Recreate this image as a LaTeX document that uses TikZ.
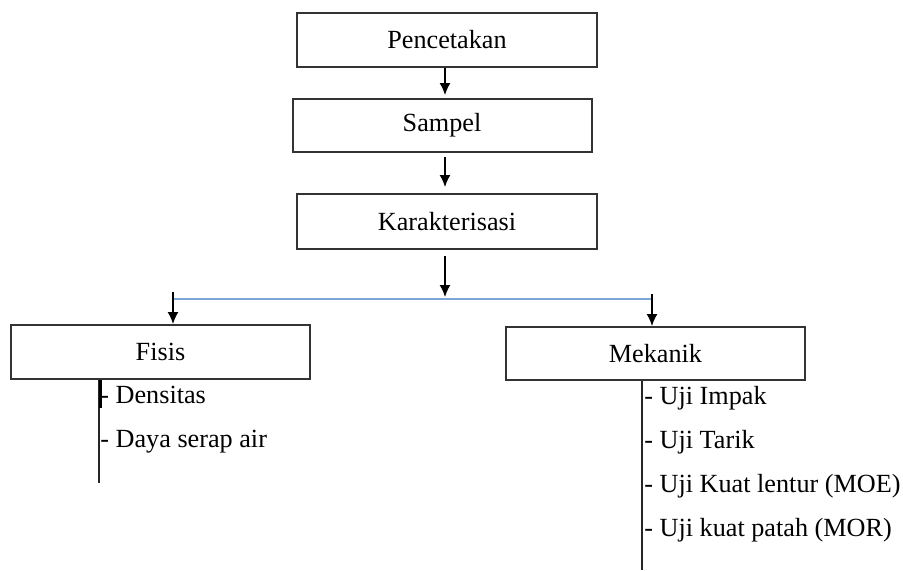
\documentclass[tikz,border=0pt]{standalone}
\usepackage{fontspec}
\setmainfont{Liberation Serif}
\usetikzlibrary{arrows.meta}
\definecolor{boxline}{HTML}{333333}
\definecolor{splitblue}{HTML}{7CA6DA}
\begin{document}
\begin{tikzpicture}[x=0.5pt,y=-0.5pt,
  box/.style={draw=boxline,line width=1pt,inner sep=0pt,minimum width=150pt,font=\fontsize{13.1}{15}\selectfont},
  arr/.style={line width=0.75pt,-{Latex[length=6pt,width=5.5pt]}},
  item/.style={anchor=base west,inner sep=0pt,font=\fontsize{13.1}{15}\selectfont},
  stem/.style={line width=0.75pt,draw=black!85},
  split/.style={line width=1pt,draw=splitblue}]
\useasboundingbox (0,0) rectangle (903,570);
% boxes
\node[box,minimum height=27pt] (pen) at (447,40) {Pencetakan};
\node[box,minimum height=26.5pt,minimum width=149.5pt] (sam) at (442,125.5) {Sampel};
\node[box,minimum height=27.5pt] (kar) at (447,221.5) {Karakterisasi};
\node[box,minimum height=27pt,minimum width=149.5pt] (fis) at (160.5,352) {Fisis};
\node[box,minimum height=26.5pt,minimum width=149.5pt] (mek) at (655.5,353.5) {Mekanik};
% helper coordinates
\coordinate (a1s) at (445,67);
\coordinate (a1e) at (445,95);
\coordinate (a2s) at (445,157);
\coordinate (a2e) at (445,187);
\coordinate (a3s) at (445,256);
\coordinate (a3e) at (445,297);
\coordinate (bl) at (173,299);
\coordinate (br) at (652,299);
\coordinate (flt) at (173,292);
\coordinate (frt) at (652,294);
\coordinate (fend) at (99,483);
\coordinate (fthick) at (100.5,408);
\coordinate (mend) at (642,570);
% vertical arrows
\draw[arr] (pen.south -| a1s) -- (a1e);
\draw[arr] (a2s) -- (a2e);
\draw[arr] (a3s) -- (a3e);
% blue split line
\draw[split] (bl) -- (br);
\draw[arr] (flt) -- (flt |- fis.north);
\draw[arr] (frt) -- (frt |- mek.north);
% stems
\draw[stem] (fis.south -| fend) -- (fend);
\draw[line width=1.5pt] (fis.south -| fthick) -- (fthick);
\draw[stem] (mek.south -| mend) -- (mend);
% items
\node[item] (d1) at (100,403) {- Densitas};
\node[item] (d2) at (100,447) {- Daya serap air};
\node[item] (m1) at (644,404) {- Uji Impak};
\node[item] (m2) at (644,448) {- Uji Tarik};
\node[item] (m3) at (644,492) {- Uji Kuat lentur (MOE)};
\node[item] (m4) at (644,536) {- Uji kuat patah (MOR)};
\end{tikzpicture}
\end{document}
